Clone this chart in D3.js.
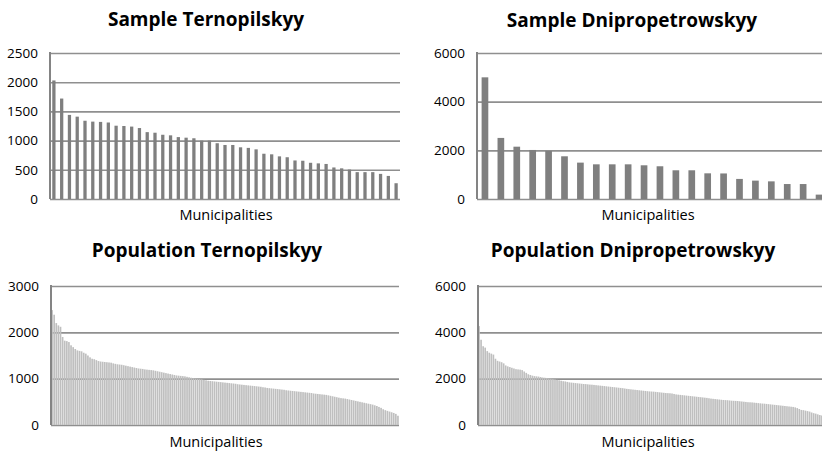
<!DOCTYPE html>
<html>
<head>
<meta charset="utf-8">
<script src="https://cdn.jsdelivr.net/npm/d3@7"></script>
<style>
  body { margin: 0; background: #fff; }
  svg { display: block; }
</style>
</head>
<body>
<svg id="chart" width="822" height="452"></svg>
<script>
// values (municipalities sorted by size)
var sampleTernopil = [2030, 1720, 1440, 1410, 1340, 1325, 1320, 1310, 1255, 1250,
    1240, 1215, 1145, 1135, 1100, 1090, 1060, 1050, 1040, 1000,
    1000, 955, 925, 925, 885, 875, 850, 775, 765, 730,
    715, 660, 655, 620, 610, 600, 540, 525, 505, 460,
    460, 460, 430, 395, 270];

var sampleDnipro = [5000, 2510, 2150, 2015, 1975, 1755, 1495, 1425, 1425, 1425,
    1385, 1345, 1180, 1180, 1055, 1050, 825, 755, 725, 615,
    615, 180];

var popTernopil = [2480, 2380, 2200, 2150, 2120, 1900, 1820, 1810, 1790, 1720,
    1680, 1640, 1610, 1600, 1590, 1560, 1540, 1500, 1460, 1430,
    1420, 1400, 1380, 1370, 1365, 1360, 1355, 1350, 1345, 1330,
    1320, 1310, 1305, 1300, 1290, 1280, 1270, 1260, 1250, 1240,
    1230, 1220, 1215, 1210, 1200, 1195, 1190, 1185, 1180, 1170,
    1160, 1150, 1140, 1130, 1120, 1110, 1100, 1090, 1080, 1070,
    1065, 1060, 1055, 1050, 1040, 1030, 1020, 1010, 1000, 995,
    990, 985, 975, 965, 955, 950, 945, 940, 935, 930,
    925, 920, 915, 910, 905, 900, 895, 890, 880, 875,
    870, 865, 860, 855, 850, 845, 840, 835, 830, 825,
    815, 810, 800, 795, 790, 785, 780, 775, 770, 765,
    760, 750, 745, 740, 735, 730, 725, 720, 715, 710,
    705, 700, 695, 690, 680, 675, 670, 665, 660, 655,
    650, 640, 630, 620, 610, 600, 590, 580, 575, 570,
    560, 550, 540, 530, 520, 510, 500, 490, 480, 470,
    460, 450, 440, 425, 410, 390, 370, 340, 320, 305,
    290, 275, 260, 240, 200];

var popDnipro = [4270, 3680, 3400, 3340, 3190, 3120, 3080, 3040, 2860, 2770,
    2740, 2710, 2660, 2570, 2530, 2500, 2470, 2440, 2410, 2400,
    2390, 2370, 2310, 2250, 2190, 2160, 2130, 2110, 2100, 2090,
    2070, 2050, 2040, 2030, 2010, 2000, 1990, 1970, 1950, 1930,
    1910, 1890, 1880, 1860, 1840, 1830, 1820, 1810, 1800, 1790,
    1780, 1770, 1765, 1755, 1745, 1740, 1730, 1720, 1710, 1700,
    1690, 1680, 1670, 1660, 1650, 1640, 1630, 1620, 1610, 1600,
    1590, 1575, 1560, 1550, 1540, 1530, 1520, 1510, 1500, 1490,
    1480, 1470, 1460, 1450, 1445, 1440, 1430, 1420, 1410, 1400,
    1390, 1380, 1375, 1370, 1360, 1340, 1320, 1310, 1300, 1290,
    1280, 1270, 1260, 1250, 1240, 1230, 1220, 1210, 1200, 1190,
    1180, 1170, 1155, 1140, 1130, 1120, 1110, 1100, 1090, 1080,
    1075, 1070, 1060, 1050, 1045, 1040, 1035, 1025, 1015, 1005,
    995, 985, 980, 975, 965, 955, 945, 935, 925, 920,
    910, 900, 890, 880, 870, 860, 850, 840, 830, 820,
    810, 800, 790, 780, 760, 730, 690, 650, 640, 620,
    600, 580, 540, 510, 490, 460, 430, 410, 390, 370];

var titles = ["Sample Ternopilskyy", "Sample Dnipropetrowskyy",
    "Population Ternopilskyy", "Population Dnipropetrowskyy"];
var xLabel = "Municipalities";
var yTicksTernopilSample = [0, 500, 1000, 1500, 2000, 2500];
var yTicksDniproSample = [0, 2000, 4000, 6000];
var yTicksTernopilPop = [0, 1000, 2000, 3000];
var yTicksDniproPop = [0, 2000, 4000, 6000];

var svg = d3.select("#chart");

function drawPanel(p) {
    var g = svg.append("g");
    var x = d3.scaleBand()
        .domain(d3.range(p.values.length))
        .range([p.left, p.right])
        .paddingInner(p.pad)
        .paddingOuter(p.pad / 2);
    var y = d3.scaleLinear()
        .domain([0, p.ticks[p.ticks.length - 1]])
        .range([p.bottom, p.top]);

    // gridlines + tick labels
    var axis = g.append("g")
        .attr("transform", "translate(" + p.left + ",0)")
        .call(d3.axisLeft(y)
            .tickValues(p.ticks)
            .tickSize(-(p.right - p.left))
            .tickPadding(12)
            .tickFormat(d3.format("d")));
    axis.select(".domain").remove();
    axis.selectAll(".tick line")
        .attr("stroke", "#8f8f8f")
        .attr("stroke-width", 1.6);
    axis.selectAll(".tick text")
        .attr("fill", "#000")
        .style("font-family", "'Open Sans', sans-serif")
        .style("font-size", "13.5px");

    g.selectAll("rect.bar")
        .data(p.values)
        .enter().append("rect")
        .attr("class", "bar")
        .attr("x", function(d, i){ return x(i); })
        .attr("width", x.bandwidth())
        .attr("y", function(d){ return y(d); })
        .attr("height", function(d){ return p.bottom - y(d); })
        .attr("fill", p.color);

    // left axis line
    g.append("line")
        .attr("x1", p.left).attr("x2", p.left)
        .attr("y1", p.top - 1).attr("y2", p.bottom)
        .attr("stroke", "#848484")
        .attr("stroke-width", 2);

    g.append("text")
        .attr("x", p.titleX)
        .attr("y", p.titleY)
        .attr("text-anchor", "middle")
        .style("font-family", "'Open Sans', sans-serif")
        .style("font-weight", "bold")
        .style("font-size", "19px")
        .text(p.title);

    g.append("text")
        .attr("x", p.labelX)
        .attr("y", p.labelY)
        .attr("text-anchor", "middle")
        .style("font-family", "'Open Sans', sans-serif")
        .style("font-size", "14.5px")
        .text(xLabel);
}

drawPanel({values: sampleTernopil, ticks: yTicksTernopilSample, title: titles[0],
    left: 50, right: 400, top: 53, bottom: 199, pad: 0.58, color: "#7f7f7f",
    titleX: 206, titleY: 26, labelX: 226, labelY: 220});
drawPanel({values: sampleDnipro, ticks: yTicksDniproSample, title: titles[1],
    left: 477, right: 827, top: 53, bottom: 199, pad: 0.58, color: "#7f7f7f",
    titleX: 632, titleY: 27, labelX: 648, labelY: 220});
drawPanel({values: popTernopil, ticks: yTicksTernopilPop, title: titles[2],
    left: 51, right: 399, top: 286, bottom: 425, pad: 0.2, color: "#bfbfbf",
    titleX: 207, titleY: 257, labelX: 216, labelY: 447});
drawPanel({values: popDnipro, ticks: yTicksDniproPop, title: titles[3],
    left: 478, right: 827, top: 286, bottom: 425, pad: 0.2, color: "#bfbfbf",
    titleX: 633, titleY: 257, labelX: 648, labelY: 447});
</script>
</body>
</html>
